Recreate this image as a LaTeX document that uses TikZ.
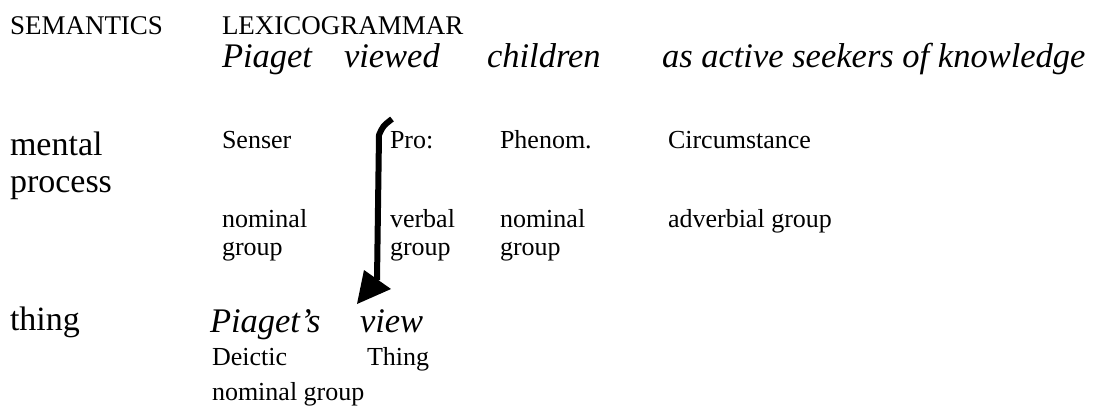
\documentclass[tikz,border=0pt]{standalone}
\usepackage{fontspec}
\setmainfont{Liberation Serif}
\begin{document}
\begin{tikzpicture}[x=1pt,y=-1pt,
  lbl/.style={anchor=base west,inner sep=0pt,outer sep=0pt},
  head/.style={lbl,font=\fontsize{27}{30}\selectfont},
  ital/.style={lbl,font=\fontsize{34.5}{40}\itshape\selectfont},
  sem/.style={lbl,font=\fontsize{34}{40}\selectfont},
  small/.style={lbl,font=\fontsize{26}{30}\selectfont},
  shaft/.style={line width=6pt,line join=round}]
\useasboundingbox (0,0) rectangle (1095,413);
% headings
\node[head] (sem) at (10,34) {SEMANTICS};
\node[head] (lex) at (222,34) {LEXICOGRAMMAR};
% clause
\node[ital] (w1) at (222,67) {Piaget};
\node[ital] (w2) at (344,67) {viewed};
\node[ital] (w3) at (487,67) {children};
\node[ital] (w4) at (662,67) {as active seekers of knowledge};
% semantic labels
\node[sem] (mental) at (10,155) {mental};
\node[sem] (process) at (10,192) {process};
\node[sem] (thing) at (10,330) {thing};
% functions
\node[small] (senser) at (222,148) {Senser};
\node[small] (pro) at (390,148) {Pro:};
\node[small] (phen) at (500,148) {Phenom.};
\node[small] (circ) at (668,148) {Circumstance};
% classes
\node[small] (ng1a) at (222,227) {nominal};
\node[small] (ng1b) at (222,255) {group};
\node[small] (vga) at (390,227) {verbal};
\node[small] (vgb) at (390,255) {group};
\node[small] (ng2a) at (500,227) {nominal};
\node[small] (ng2b) at (500,255) {group};
\node[small] (adv) at (668,227) {adverbial group};
% nominalisation
\node[ital] (pias) at (210,332) {Piaget's};
\node[ital] (view) at (360,332) {view};
\node[small] (deic) at (212,365) {Deictic};
\node[small] (thg) at (367,365) {Thing};
\node[small] (ng3) at (212,400) {nominal group};
% arrow
\coordinate (hook) at (392,119);
\coordinate (bend) at (379,135);
\coordinate (bot) at (377,280);
\coordinate (tip) at (357,304);
\coordinate (c1) at (364,270);
\coordinate (c2) at (391,289);
\draw[shaft] (hook) .. controls (383,126) .. (bend) -- (bot);
\fill (tip) -- (c1) -- (c2) -- cycle;
\end{tikzpicture}
\end{document}
